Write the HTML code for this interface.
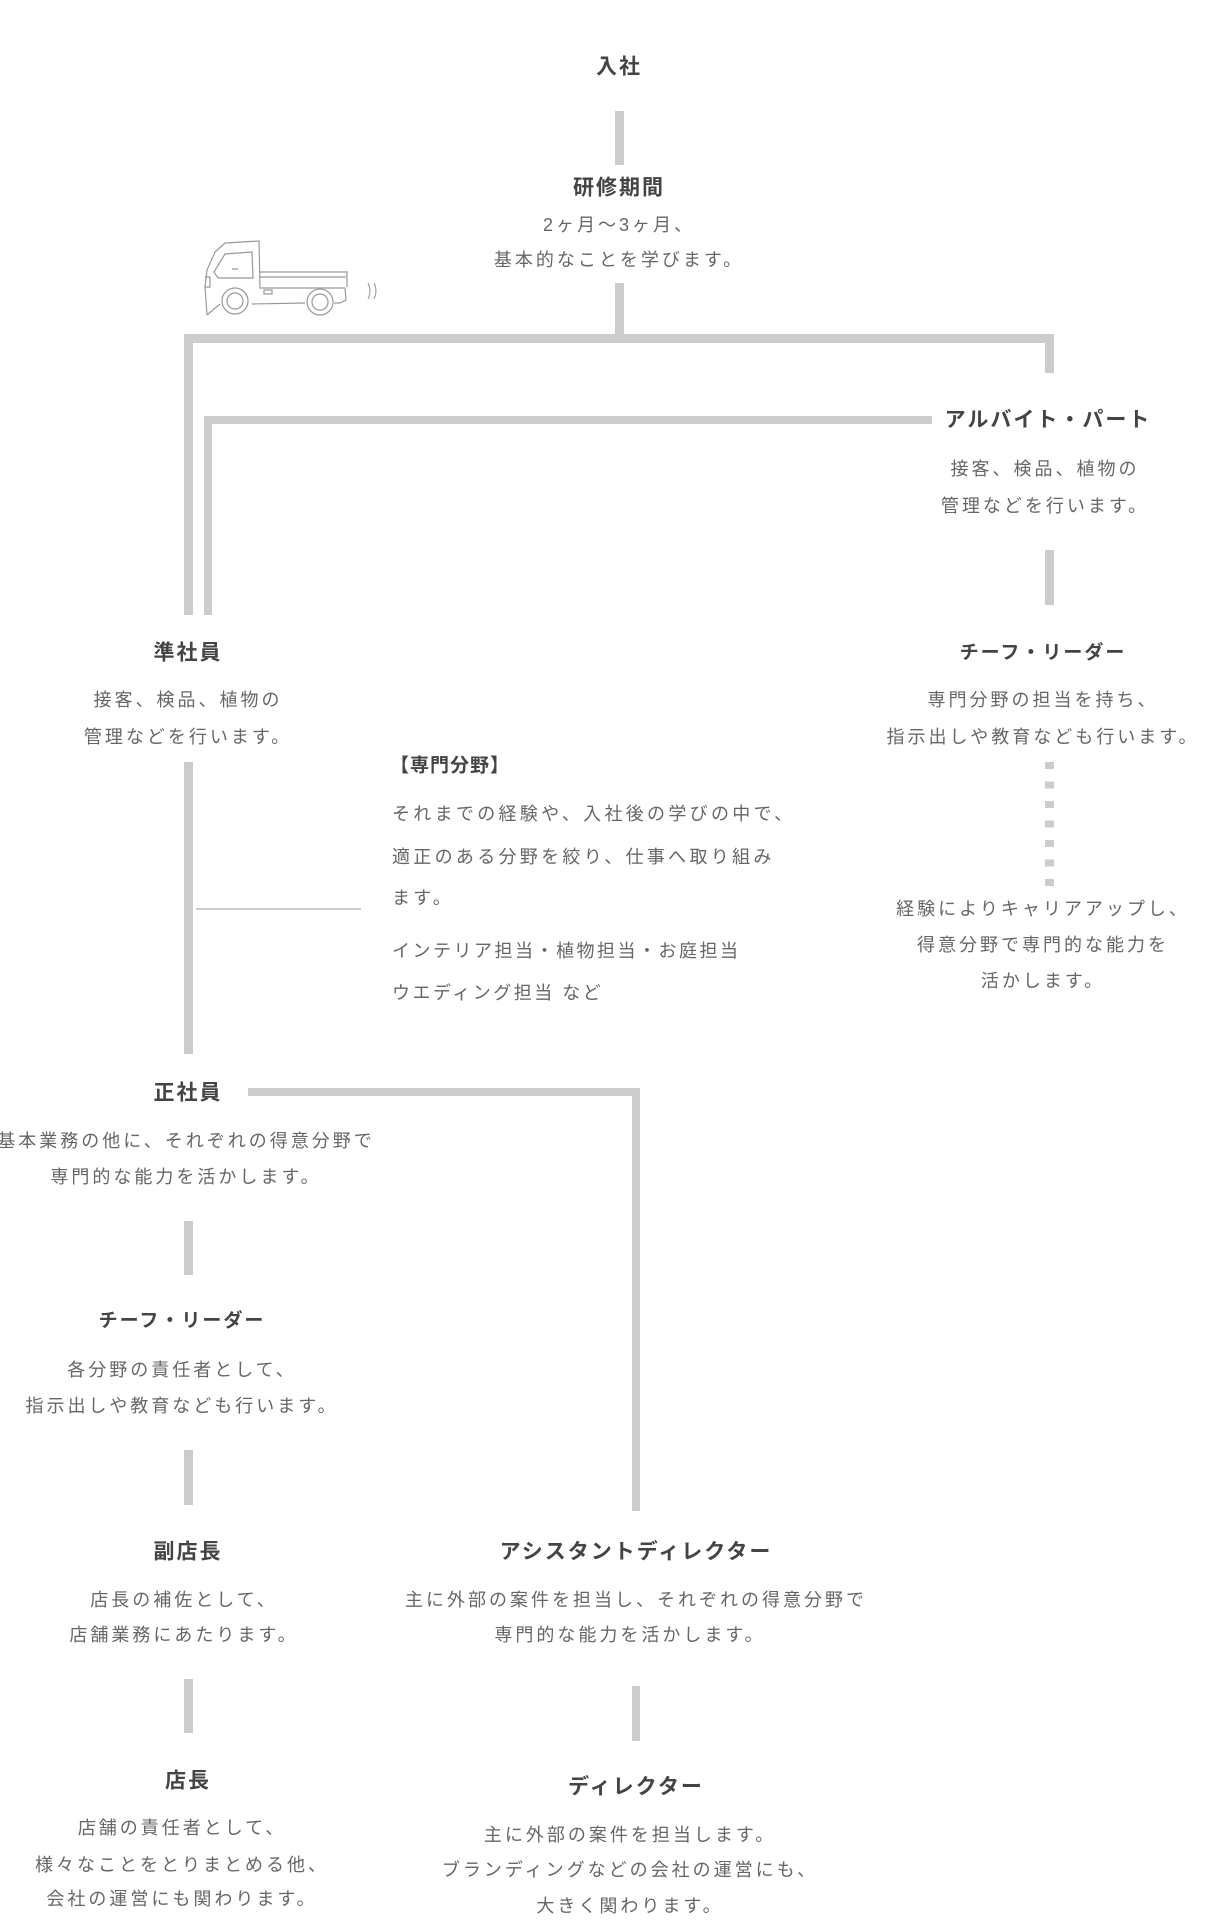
<!DOCTYPE html>
<html><head><meta charset="utf-8"><style>
html,body{margin:0;padding:0;background:#fff;}
body{width:1205px;height:1920px;position:relative;overflow:hidden;font-family:"Liberation Sans","Noto Sans CJK JP",sans-serif;}
.t{position:absolute;white-space:nowrap;transform:translate(-50%,-50%);line-height:1;}
.h{font-size:21px;font-weight:bold;color:#444;letter-spacing:2px;}
.b{font-size:18px;color:#666;letter-spacing:3px;}
.l{position:absolute;white-space:nowrap;transform:translateY(-50%);line-height:1;font-size:18px;color:#666;letter-spacing:3.3px;}
.g{position:absolute;background:#ccc;}
</style></head><body>
<div class="g" style="left:615px;top:111px;width:9px;height:54px"></div>
<div class="g" style="left:615px;top:283px;width:9px;height:54px"></div>
<div class="g" style="left:184px;top:334px;width:869px;height:9px"></div>
<div class="g" style="left:184px;top:334px;width:9px;height:281px"></div>
<div class="g" style="left:1045px;top:334px;width:9px;height:39px"></div>
<div class="g" style="left:204px;top:416px;width:728px;height:8px"></div>
<div class="g" style="left:204px;top:416px;width:8px;height:199px"></div>
<div class="g" style="left:1045px;top:550px;width:9px;height:55px"></div>
<div class="g" style="left:184px;top:762px;width:9px;height:292px"></div>
<div class="g" style="left:196px;top:908px;width:165px;height:2px"></div>
<div style="position:absolute;left:1045px;top:762px;width:9px;height:124px;background:repeating-linear-gradient(to bottom,#ccc 0 7px,transparent 7px 19.5px)"></div>
<div class="g" style="left:248px;top:1088px;width:392px;height:8px"></div>
<div class="g" style="left:632px;top:1088px;width:8px;height:423px"></div>
<div class="g" style="left:184px;top:1221px;width:9px;height:54px"></div>
<div class="g" style="left:184px;top:1450px;width:9px;height:55px"></div>
<div class="g" style="left:184px;top:1679px;width:9px;height:54px"></div>
<div class="g" style="left:632px;top:1686px;width:8px;height:55px"></div>

<svg style="position:absolute;left:200px;top:236px" width="190" height="85" viewBox="200 236 190 85" fill="none" stroke="#999" stroke-width="1.2">
<path d="M207 315 L205 287 L207 270 L215 252 L225 243 L259 241 L260 288 L345 288 L346 300 L340 303 L334 303 M305 303 L252 304 M220 304 L207 315"/>
<path d="M214 272 L225 254 L252 252 L253 278 L218 278 Z"/>
<path d="M259 272 L347 272 L347 287 M260 277 L346 277"/>
<path d="M205 277 L210 277 L210 287 L205 287"/>
<circle cx="235" cy="301" r="13"/><circle cx="235" cy="301" r="8"/>
<circle cx="320" cy="302" r="13"/><circle cx="320" cy="302" r="8"/>
<path d="M264 290 h8 v4 h-8 z M232 269 h6"/>
<path d="M368 283 q4 8 0 16 M374 283 q4 8 0 16" stroke-width="1"/>
</svg>

<div class="t h" style="left:619px;top:67px">入社</div>
<div class="t h" style="left:619px;top:188px">研修期間</div>
<div class="t b" style="left:619px;top:225px">2ヶ月〜3ヶ月、</div>
<div class="t b" style="left:619px;top:260px">基本的なことを学びます。</div>

<div class="t h" style="left:1048px;top:420px">アルバイト・パート</div>
<div class="t b" style="left:1045px;top:469px">接客、検品、植物の</div>
<div class="t b" style="left:1045px;top:506px">管理などを行います。</div>

<div class="t h" style="left:1043px;top:653px;font-size:19px">チーフ・リーダー</div>
<div class="t b" style="left:1043px;top:700px">専門分野の担当を持ち、</div>
<div class="t b" style="left:1043px;top:737px">指示出しや教育なども行います。</div>
<div class="t b" style="left:1043px;top:909px">経験によりキャリアアップし、</div>
<div class="t b" style="left:1043px;top:945px">得意分野で専門的な能力を</div>
<div class="t b" style="left:1043px;top:981px">活かします。</div>

<div class="t h" style="left:188px;top:653px">準社員</div>
<div class="t b" style="left:188px;top:700px">接客、検品、植物の</div>
<div class="t b" style="left:188px;top:737px">管理などを行います。</div>

<div class="l" style="left:390px;top:766px;font-size:19px;font-weight:bold;color:#444;letter-spacing:1px">【専門分野】</div>
<div class="l" style="left:392px;top:814px">それまでの経験や、入社後の学びの中で、</div>
<div class="l" style="left:392px;top:857px">適正のある分野を絞り、仕事へ取り組み</div>
<div class="l" style="left:392px;top:898px">ます。</div>
<div class="l" style="left:392px;top:951px;letter-spacing:2.5px">インテリア担当・植物担当・お庭担当</div>
<div class="l" style="left:392px;top:993px;letter-spacing:2.5px">ウエディング担当 など</div>

<div class="t h" style="left:188px;top:1093px">正社員</div>
<div class="t b" style="left:186px;top:1141px">基本業務の他に、それぞれの得意分野で</div>
<div class="t b" style="left:186px;top:1177px">専門的な能力を活かします。</div>

<div class="t h" style="left:182px;top:1321px;font-size:19px">チーフ・リーダー</div>
<div class="t b" style="left:182px;top:1370px">各分野の責任者として、</div>
<div class="t b" style="left:182px;top:1406px">指示出しや教育なども行います。</div>

<div class="t h" style="left:188px;top:1552px">副店長</div>
<div class="t b" style="left:184px;top:1600px">店長の補佐として、</div>
<div class="t b" style="left:184px;top:1635px">店舗業務にあたります。</div>

<div class="t h" style="left:188px;top:1781px">店長</div>
<div class="t b" style="left:182px;top:1828px">店舗の責任者として、</div>
<div class="t b" style="left:182px;top:1865px">様々なことをとりまとめる他、</div>
<div class="t b" style="left:182px;top:1899px">会社の運営にも関わります。</div>

<div class="t h" style="left:636px;top:1552px">アシスタントディレクター</div>
<div class="t b" style="left:636px;top:1600px">主に外部の案件を担当し、それぞれの得意分野で</div>
<div class="t b" style="left:630px;top:1635px">専門的な能力を活かします。</div>

<div class="t h" style="left:636px;top:1787px">ディレクター</div>
<div class="t b" style="left:630px;top:1835px">主に外部の案件を担当します。</div>
<div class="t b" style="left:630px;top:1870px">ブランディングなどの会社の運営にも、</div>
<div class="t b" style="left:630px;top:1906px">大きく関わります。</div>
</body></html>
